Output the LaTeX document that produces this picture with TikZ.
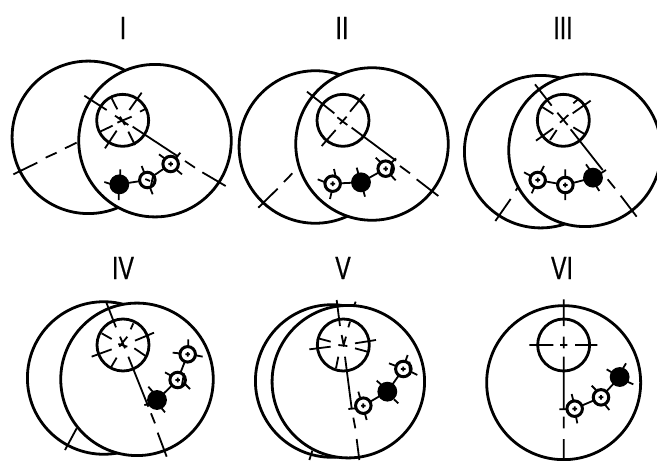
\documentclass[tikz,border=0pt]{standalone}
\usepackage{fontspec}
\setmainfont{Liberation Sans}
\newfontfamily\titlefont[FakeBold=0.8]{Liberation Sans}
\tikzset{
  x=1pt,y=-1pt,
  disc/.style n args={1}{circle,draw=black,line width=2.8pt,fill=white,inner sep=0,outer sep=0,minimum size=#1pt},
  bigdisc/.style={disc=152.5},
  sun/.style={disc=52},
  openplanet/.style={disc=15.5,line width=3pt},
  blackplanet/.style={disc=17,fill=black},
  link/.style={line width=1.8pt},
  tick/.style={line width=1.8pt},
  title/.style={font=\titlefont\fontsize{32}{32}\selectfont,xscale=.72,inner sep=0},
  panel/.style={shift={#1},scale=1/3}
}
\begin{document}
\begin{tikzpicture}
\useasboundingbox (0,0) rectangle (657,461);
\fill[white] (0,0) rectangle (657,461);
\node[title] (t1) at (123,28) {I};
\node[title] (t2) at (342,28) {II};
\node[title] (t3) at (563,28) {III};
\node[title] (t4) at (123,268) {IV};
\node[title] (t5) at (343,268) {V};
\node[title] (t6) at (562,268) {VI};
% Panel I
\begin{scope}[panel={(0,0)}]
\node[bigdisc] (a1) at (265,412) {};
\node[bigdisc] (a2) at (465,422) {};
\node[sun] (a3) at (368,361) {};
\node[blackplanet] (a4) at (358,553) {};
\node[openplanet] (a5) at (442,540) {};
\node[openplanet] (a6) at (512,492) {};
\draw[link] (a4)--(a5); \draw[link] (a5)--(a6);
\draw[tick] (253,287)--(320,330) (345,347)--(385,375) (398,380)--(535,470) (555,483)--(585,503) (607,517)--(677,558)
 (40,523)--(112,488) (137,473)--(170,458) (195,445)--(230,428) (300,395)--(338,377) (352,368)--(395,350) (420,335)--(440,325)
 (335,295)--(352,328) (388,330)--(425,278) (350,392)--(315,445) (385,395)--(405,435) (360,350)--(375,375)
 (361,508)--(361,528) (313,546)--(332,552) (356,600)--(356,578)
 (425,498)--(432,516) (458,583)--(450,563) (436,537)--(450,543) (460,524)--(452,562)
 (477,463)--(495,476) (541,458)--(528,474) (546,523)--(530,510) (505,492)--(519,492) (512,485)--(512,499);
\end{scope}
% Panel II
\begin{scope}[panel={(230,0)}]
\node[bigdisc] (b1) at (256,441) {};
\node[bigdisc] (b2) at (426,432) {};
\node[sun] (b3) at (339,361) {};
\node[openplanet] (b4) at (308,551) {};
\node[blackplanet] (b5) at (393,547) {};
\node[openplanet] (b6) at (467,506) {};
\draw[link] (b4)--(b5); \draw[link] (b5)--(b6);
\draw[tick] (231,275)--(313,340) (322,352)--(352,375) (365,383)--(498,482) (510,498)--(540,520) (560,538)--(625,588)
 (85,623)--(143,566) (162,546)--(187,520) (275,438)--(317,390) (330,372)--(350,350) (360,335)--(403,283)
 (263,538)--(283,546) (312,507)--(316,525) (300,597)--(305,575) (301,551)--(315,551) (308,544)--(308,558)
 (380,503)--(385,520) (405,590)--(400,572)
 (437,473)--(452,487) (498,475)--(482,490) (497,541)--(482,525) (460,506)--(474,506) (467,499)--(467,513) (487,490)--(480,528);
\end{scope}
% Panel III
\begin{scope}[panel={(450,0)}]
\node[bigdisc] (c1) at (272,455) {};
\node[bigdisc] (c2) at (405,451) {};
\node[sun] (c3) at (340,361) {};
\node[openplanet] (c4) at (263,540) {};
\node[openplanet] (c5) at (346,555) {};
\node[blackplanet] (c6) at (429,533) {};
\draw[link] (c4)--(c5); \draw[link] (c5)--(c6);
\draw[tick] (255,253)--(305,317) (322,338)--(353,375) (362,388)--(458,510) (473,538)--(495,565) (512,587)--(560,650)
 (136,663)--(182,597) (197,572)--(205,560) (258,422)--(310,385) (300,420)--(320,390) (330,368)--(355,345) (368,340)--(422,302) (370,310)--(385,297)
 (275,320)--(310,342) (370,382)--(405,403)
 (222,517)--(243,528) (282,498)--(272,517) (245,580)--(253,563) (256,540)--(270,540) (263,533)--(263,547)
 (346,508)--(346,530) (346,600)--(346,578) (339,555)--(353,555) (346,548)--(346,562)
 (408,493)--(420,510) (468,510)--(452,520) (448,573)--(438,557);
\end{scope}
% Panel IV
\begin{scope}[panel={(10,240)}]
\node[bigdisc] (d1) at (281,414) {};
\node[bigdisc] (d2) at (381,418) {};
\node[sun] (d3) at (339,315) {};
\node[blackplanet] (d4) at (441,480) {};
\node[openplanet] (d5) at (503,420) {};
\node[openplanet] (d6) at (533,343) {};
\draw[link] (d4)--(d5); \draw[link] (d5)--(d6);
\draw[tick] (288,185)--(318,262) (330,290)--(345,325) (355,350)--(415,500) (423,520)--(435,550) (443,578)--(470,650)
 (165,630)--(200,565) (370,250)--(362,268) (275,280)--(305,297) (432,278)--(375,302) (245,350)--(305,328) (373,325)--(410,350) (320,353)--(303,382)
 (328,320)--(352,290) (325,312)--(352,320)
 (415,440)--(428,455) (403,495)--(420,492) (465,517)--(455,505)
 (465,397)--(483,407) (540,447)--(525,432) (496,420)--(510,420) (503,413)--(503,427) (522,400)--(515,440)
 (535,298)--(535,318) (488,338)--(508,340) (578,350)--(558,346) (526,343)--(540,343) (533,336)--(533,350);
\end{scope}
% Panel V
\begin{scope}[panel={(240,240)}]
\node[bigdisc] (e1) at (275,423) {};
\node[bigdisc] (e2) at (325,425) {};
\node[sun] (e3) at (310,315) {};
\node[openplanet] (e4) at (370,497) {};
\node[blackplanet] (e5) at (442,455) {};
\node[openplanet] (e6) at (490,387) {};
\draw[link] (e4)--(e5); \draw[link] (e5)--(e6);
\draw[tick] (290,180)--(300,258) (305,285)--(312,320) (315,350)--(335,505) (340,533)--(346,565) (350,597)--(358,660)
 (347,185)--(342,198) (330,245)--(325,262) (295,350)--(288,385) (208,660)--(217,632)
 (208,328)--(272,320) (345,310)--(408,300) (235,295)--(272,305) (345,325)--(382,335) (295,315)--(322,318) (318,290)--(310,318)
 (355,455)--(360,472) (380,540)--(375,522) (325,507)--(345,505) (363,497)--(377,497) (370,490)--(370,504)
 (410,422)--(425,435) (475,490)--(462,478)
 (447,370)--(468,378) (503,345)--(497,362) (532,405)--(512,395) (483,387)--(497,387) (490,380)--(490,394) (508,365)--(510,405);
\end{scope}
% Panel VI
\begin{scope}[panel={(470,240)}]
\node[disc=154] (f2) at (281,428) {};
\node[sun] (f3) at (281,315) {};
\node[openplanet] (f4) at (314,506) {};
\node[openplanet] (f5) at (393,472) {};
\node[blackplanet] (f6) at (449,411) {};
\draw[link] (f4)--(f5); \draw[link] (f5)--(f6);
\draw[tick] (281,178)--(281,258) (281,290)--(281,325) (281,350)--(281,510) (281,530)--(281,565) (281,597)--(281,660)
 (178,315)--(250,315) (270,315)--(292,315) (315,315)--(382,315)
 (305,462)--(310,482) (322,550)--(318,530) (268,508)--(288,508) (307,506)--(321,506) (314,499)--(314,513)
 (365,437)--(378,450) (418,510)--(405,494) (386,472)--(400,472) (393,465)--(393,479)
 (410,388)--(427,398) (468,370)--(458,387) (490,433)--(472,425);
\end{scope}
\end{tikzpicture}
\end{document}
